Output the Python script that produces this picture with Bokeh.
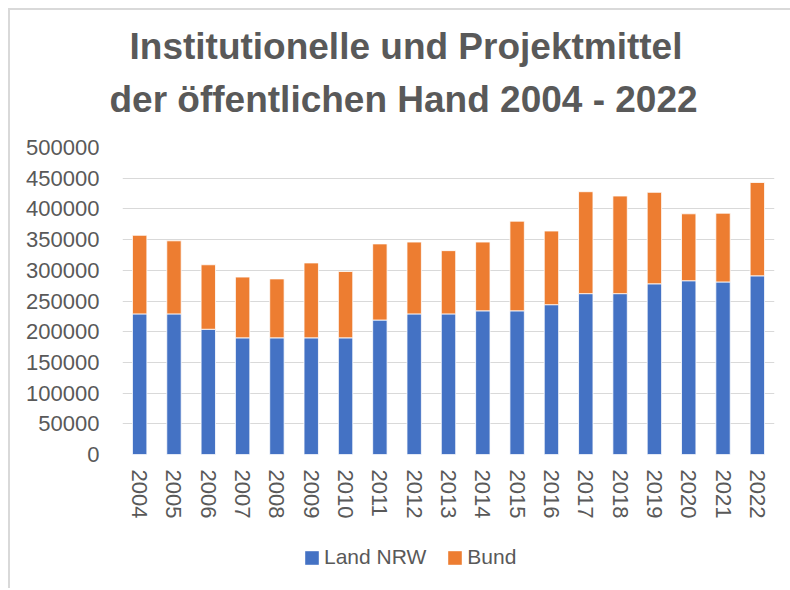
from bokeh.plotting import figure
from bokeh.layouts import column
from bokeh.models import (FactorRange, Range1d, Title, Legend, LegendItem,
                          SingleIntervalTicker, BasicTickFormatter, ColumnDataSource)
from bokeh.embed import file_html
from bokeh.resources import INLINE

years = [str(y) for y in range(2004, 2023)]
land_nrw = [229000, 229000, 204000, 190000, 190000, 190000, 190000, 219000, 229000, 229000,
            234000, 234000, 244000, 262000, 262000, 278000, 283000, 281000, 291000]
bund = [128000, 119000, 105000, 99000, 96000, 122000, 108000, 124000, 117000, 103000,
        112000, 146000, 120000, 166000, 159000, 149000, 109000, 112000, 152000]
series = ["Land NRW", "Bund"]
colors = ["#4472C4", "#ED7D31"]
title_lines = ["Institutionelle und Projektmittel", "der öffentlichen Hand 2004 - 2022"]

TXT = "#595959"
FONT = "Liberation Sans"
W = 780
MAIN_H = 530
LEG_H = 48

p = figure(width=W, height=MAIN_H, output_backend="svg", toolbar_location=None,
           x_range=FactorRange(*years, range_padding=0), y_range=Range1d(0, 500000),
           min_border_left=112, min_border_right=16, min_border_top=137, min_border_bottom=86)
p.title = None
p.outline_line_color = None
p.background_fill_color = "white"
p.border_fill_color = "white"

src = dict(years=years)
src["Land NRW"] = land_nrw
src["Bund"] = bund
rs = p.vbar_stack(series, x="years", width=0.42, color=colors, source=src,
                  line_color="white", line_width=0.8)

# titles (first added is closest to the frame)
offsets = [7, -13]
standoffs = [-34, 55]
for line, off, so in reversed(list(zip(title_lines, offsets, standoffs))):
    p.add_layout(Title(text=line, align="left", offset=off, text_font=FONT,
                       text_font_size="37px", text_font_style="bold", text_color=TXT,
                       standoff=so), "above")

p.xgrid.grid_line_color = None
p.ygrid.grid_line_color = "#d9d9d9"
p.ygrid.grid_line_width = 1

p.yaxis.ticker = SingleIntervalTicker(interval=50000)
p.yaxis.formatter = BasicTickFormatter(use_scientific=False)
for ax in (p.xaxis, p.yaxis):
    ax.axis_line_color = None
    ax.major_tick_line_color = None
    ax.minor_tick_line_color = None
    ax.major_label_text_font = FONT
    ax.major_label_text_font_size = "22px"
    ax.major_label_text_color = TXT
p.yaxis.major_label_standoff = 17
p.xaxis.major_label_standoff = 9
p.xaxis.major_label_orientation = "vertical"

# legend strip below the chart (swatch renderers draw nothing: zero-height bars)
lg = figure(width=W, height=LEG_H, output_backend="svg", toolbar_location=None,
            x_range=Range1d(0, 1), y_range=Range1d(0, 1),
            x_axis_location=None, y_axis_location=None, min_border=0)
lg.outline_line_color = None
lg.grid.grid_line_color = None
lg.border_fill_color = "white"
swatch_src = ColumnDataSource(dict(x=[0.5], top=[0.0]))
swatches = [lg.vbar(x="x", top="top", width=0.0, fill_color=c, line_color=None,
                    source=swatch_src) for c in colors]
legend = Legend(items=[LegendItem(label=s, renderers=[r]) for s, r in zip(series, swatches)],
                orientation="horizontal", location=(181, 19), padding=0, margin=0,
                spacing=20, label_standoff=4, glyph_width=17, glyph_height=17,
                label_text_font=FONT, label_text_font_size="21px", label_text_color=TXT,
                border_line_color=None, background_fill_alpha=0)
lg.add_layout(legend, "center")

layout = column(p, lg, spacing=0)
layout.styles = {"margin-left": "8px", "margin-top": "8px",
                 "border-top": "2px solid #d9d9d9", "border-left": "2px solid #d9d9d9"}
open("out.html", "w").write(file_html(layout, INLINE))
